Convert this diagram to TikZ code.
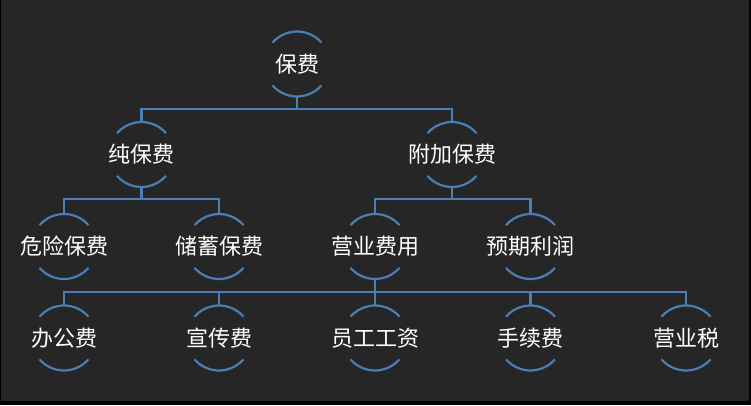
\documentclass[tikz,border=0pt]{standalone}
\usepackage{fontspec}
\newfontfamily\cjk{Noto Sans CJK SC}
\definecolor{bgc}{HTML}{262626}
\definecolor{linec}{HTML}{4A7EB5}
\tikzset{
  x=1pt,y=1pt,
  item/.style={inner sep=0pt,text=white,font=\cjk\fontsize{22}{26}\selectfont},
  conn/.style={draw=linec,line width=2.2pt},
  arcline/.style={draw=linec,line width=2.2pt},
}
\begin{document}
\begin{tikzpicture}
\useasboundingbox (0,-405) rectangle (751,0);
\fill[black] (0,-405) rectangle (751,0);
\fill[bgc] (1,-401) rectangle (749,0);
% level 1
\node[item] (root) at (297,-64) {保费};
% level 2
\node[item] (a) at (141.5,-154.5) {纯保费};
\node[item] (b) at (452,-154.5) {附加保费};
% level 3
\node[item] (a1) at (64,-246.5) {危险保费};
\node[item] (a2) at (219,-246.5) {储蓄保费};
\node[item] (b1) at (375,-246.5) {营业费用};
\node[item] (b2) at (530.5,-246.5) {预期利润};
% level 4
\node[item] (c1) at (64,-338) {办公费};
\node[item] (c2) at (219,-338) {宣传费};
\node[item] (c3) at (375,-338) {员工工资};
\node[item] (c4) at (530.5,-338) {手续费};
\node[item] (c5) at (686,-338) {营业税};
% arcs
\foreach \n in {root,a,b,a1,a2,b1,b2,c1,c2,c3,c4,c5}{
  \draw[arcline] ([shift={(41:32.5)}]\n.center) arc (41:139:32.5);
  \draw[arcline] ([shift={(221:32.5)}]\n.center) arc (221:319:32.5);
}
% connectors
\foreach \p/\c in {root/a,root/b}{
  \draw[conn] ([yshift=-32.5]\p.center) -- ([yshift=-45]\p.center) -| ([yshift=32.5]\c.center);
}
\foreach \p/\c in {a/a1,a/a2,b/b1,b/b2}{
  \draw[conn] ([yshift=-32.5]\p.center) -- ([yshift=-44.5]\p.center) -| ([yshift=32.5]\c.center);
}
\foreach \c in {c1,c2,c3,c4,c5}{
  \draw[conn] ([yshift=-32.5]b1.center) -- ([yshift=-45.5]b1.center) -| ([yshift=32.5]\c.center);
}
\end{tikzpicture}
\end{document}
